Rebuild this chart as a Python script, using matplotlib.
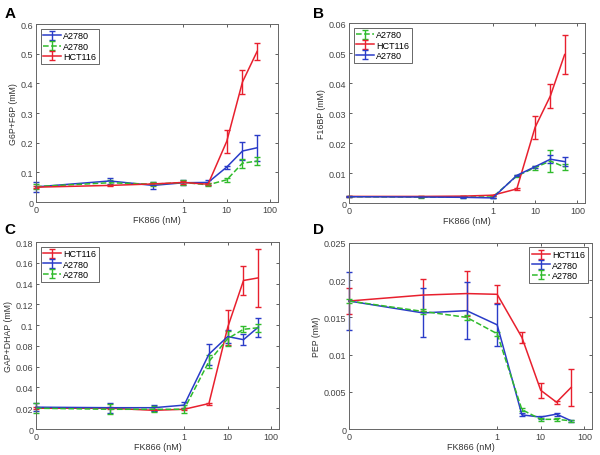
import matplotlib
matplotlib.use("Agg")
import matplotlib.pyplot as plt
from matplotlib.ticker import NullLocator, FixedLocator, FixedFormatter, FormatStrFormatter
import numpy as np

# FK866 concentrations (nM)
conc = [0, 0.02, 0.2, 1, 3.7, 10, 23, 50]

# Panel A: G6P+F6P (mM)
a_blue = [0.051, 0.071, 0.056, 0.065, 0.066, 0.118, 0.172, 0.183]
a_blue_e = [0.017, 0.010, 0.013, 0.009, 0.009, 0.005, 0.030, 0.043]
a_green = [0.052, 0.065, 0.060, 0.066, 0.058, 0.075, 0.131, 0.138]
a_green_e = [0.008, 0.008, 0.006, 0.008, 0.005, 0.007, 0.015, 0.013]
a_red = [0.050, 0.056, 0.061, 0.066, 0.060, 0.205, 0.405, 0.508]
a_red_e = [0.003, 0.003, 0.004, 0.004, 0.004, 0.038, 0.040, 0.030]

# Panel B: F16BP (mM)
b_green = [0.0021, 0.0020, 0.0020, 0.0020, 0.0090, 0.0118, 0.0140, 0.0120]
b_green_e = [0.0002, 0.0002, 0.0002, 0.0002, 0.0003, 0.0007, 0.0037, 0.0010]
b_red = [0.0022, 0.0022, 0.0023, 0.0026, 0.0047, 0.0252, 0.0357, 0.0495]
b_red_e = [0.0001, 0.0001, 0.0001, 0.0002, 0.0002, 0.0037, 0.0040, 0.0065]
b_blue = [0.0021, 0.0020, 0.0019, 0.0017, 0.0092, 0.0121, 0.0146, 0.0138]
b_blue_e = [0.0001, 0.0001, 0.0001, 0.0001, 0.0002, 0.0004, 0.0013, 0.0015]

# Panel C: GAP+DHAP (mM)
c_red = [0.020, 0.020, 0.018, 0.019, 0.0245, 0.098, 0.143, 0.1455]
c_red_e = [0.001, 0.001, 0.001, 0.001, 0.001, 0.017, 0.014, 0.028]
c_blue = [0.021, 0.0205, 0.0205, 0.023, 0.072, 0.089, 0.086, 0.098]
c_blue_e = [0.004, 0.005, 0.003, 0.003, 0.010, 0.006, 0.005, 0.009]
c_green = [0.020, 0.019, 0.019, 0.019, 0.065, 0.087, 0.096, 0.0975]
c_green_e = [0.005, 0.005, 0.003, 0.004, 0.006, 0.007, 0.003, 0.004]

# Panel D: PEP (mM)
d_red = [0.0172, 0.0180, 0.0182, 0.0181, 0.0123, 0.0052, 0.0036, 0.0056]
d_red_e = [0.0017, 0.0021, 0.0030, 0.0012, 0.0007, 0.0010, 0.0002, 0.0025]
d_blue = [0.0172, 0.0156, 0.0159, 0.0140, 0.0019, 0.0016, 0.0020, 0.0011]
d_blue_e = [0.0039, 0.0033, 0.0038, 0.0028, 0.0002, 0.0002, 0.0002, 0.0001]
d_green = [0.0172, 0.0158, 0.0150, 0.0128, 0.0026, 0.0013, 0.0013, 0.0011]
d_green_e = [0.0003, 0.0003, 0.0003, 0.0003, 0.0002, 0.0002, 0.0002, 0.0001]

xticks = [0, 1, 10, 100]
xtick_labels = ["0", "1", "10", "100"]

BLUE = "#2a3cc8"
RED = "#e8202e"
GREEN = "#30bb2c"

plt.rcParams["font.family"] = ["Liberation Sans", "DejaVu Sans"]

fig = plt.figure(figsize=(6, 4.56), dpi=100)

def style(ax, ylim, yticks, ylabel):
    ax.set_xscale("symlog", linthresh=0.004, linscale=0.9)
    ax.set_xlim(0, 150)
    ax.xaxis.set_major_locator(FixedLocator(xticks))
    ax.xaxis.set_major_formatter(FixedFormatter(xtick_labels))
    ax.xaxis.set_minor_locator(NullLocator())
    ax.set_ylim(*ylim)
    ax.set_yticks(yticks)
    ax.yaxis.set_major_formatter(FormatStrFormatter("%g"))
    ax.tick_params(direction="in", top=True, right=True, labelsize=6.5,
                   length=2.5, width=0.6, colors="#444444", pad=2)
    for s in ax.spines.values():
        s.set_linewidth(0.7)
        s.set_color("#666666")
    ax.set_xlabel("FK866 (nM)", fontsize=6.5, color="#333333", labelpad=1)
    ax.set_ylabel(ylabel, fontsize=6.3, color="#333333", labelpad=2)

def eb(ax, y, e, color, label, dashed=False):
    cont = ax.errorbar(conc, y, yerr=e, color=color, lw=1.1, elinewidth=1.0,
                       capsize=2, capthick=1.0, ls="--" if dashed else "-",
                       label=label)
    for art in cont.get_children():
        art.set_clip_on(False)

def legend(ax, loc):
    lg = ax.legend(loc=loc, fontsize=6.5, frameon=True, fancybox=False,
                   edgecolor="#222222", handlelength=2.0, handletextpad=0.2,
                   borderpad=0.3, labelspacing=0.15, borderaxespad=0.5)
    lg.get_frame().set_linewidth(0.6)

# A
axA = fig.add_axes([0.06, 0.5548, 0.403, 0.390])
eb(axA, a_blue, a_blue_e, BLUE, "A2780")
eb(axA, a_green, a_green_e, GREEN, "A2780", dashed=True)
eb(axA, a_red, a_red_e, RED, "HCT116")
style(axA, (0, 0.6), np.arange(0, 0.61, 0.1), "G6P+F6P (mM)")
legend(axA, "upper left")

# B
axB = fig.add_axes([0.5817, 0.5526, 0.393, 0.3947])
eb(axB, b_green, b_green_e, GREEN, "A2780", dashed=True)
eb(axB, b_red, b_red_e, RED, "HCT116")
eb(axB, b_blue, b_blue_e, BLUE, "A2780")
style(axB, (0, 0.06), np.arange(0, 0.061, 0.01), "F16BP (mM)")
legend(axB, "upper left")

# C
axC = fig.add_axes([0.06, 0.057, 0.405, 0.410])
eb(axC, c_red, c_red_e, RED, "HCT116")
eb(axC, c_blue, c_blue_e, BLUE, "A2780")
eb(axC, c_green, c_green_e, GREEN, "A2780", dashed=True)
style(axC, (0, 0.18), np.arange(0, 0.181, 0.02), "GAP+DHAP (mM)")
legend(axC, "upper left")

# D
axD = fig.add_axes([0.5817, 0.057, 0.405, 0.408])
eb(axD, d_red, d_red_e, RED, "HCT116")
eb(axD, d_blue, d_blue_e, BLUE, "A2780")
eb(axD, d_green, d_green_e, GREEN, "A2780", dashed=True)
style(axD, (0, 0.025), np.arange(0, 0.0251, 0.005), "PEP (mM)")
legend(axD, "upper right")

for lbl, x, y in [("A", 0.008, 0.985), ("B", 0.522, 0.985),
                  ("C", 0.008, 0.512), ("D", 0.522, 0.512)]:
    fig.text(x, y, lbl, fontsize=11, fontweight="bold", va="top", ha="left")

fig.savefig("out.png", dpi=100)
